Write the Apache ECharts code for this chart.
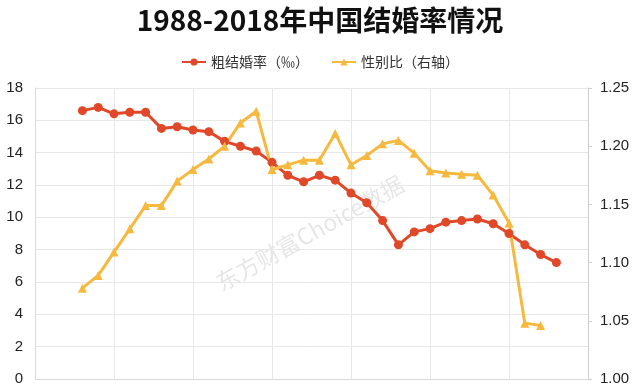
<!DOCTYPE html>
<html>
<head>
<meta charset="utf-8">
<script src="https://cdn.jsdelivr.net/npm/echarts@6/dist/echarts.min.js"></script>
<style>
    html, body { margin: 0; padding: 0; background: #fff; }
    #main { width: 640px; height: 387px; }
</style>
</head>
<body>
<div id="main"></div>
<script>
var years = [1988, 1989, 1990, 1991, 1992, 1993, 1994, 1995, 1996, 1997,
    1998, 1999, 2000, 2001, 2002, 2003, 2004, 2005, 2006, 2007,
    2008, 2009, 2010, 2011, 2012, 2013, 2014, 2015, 2016, 2017, 2018];
// 粗结婚率（‰）
var marriageRate = [16.6, 16.8, 16.4, 16.5, 16.5, 15.5, 15.6, 15.4, 15.3, 14.7,
    14.4, 14.1, 13.4, 12.6, 12.2, 12.6, 12.3, 11.5, 10.9, 9.8,
    8.3, 9.1, 9.3, 9.7, 9.8, 9.9, 9.6, 9.0, 8.3, 7.7, 7.2];
// 性别比（右轴）
var sexRatio = [1.078, 1.089, 1.109, 1.129, 1.149, 1.149, 1.170, 1.180, 1.189, 1.200,
    1.220, 1.230, 1.180, 1.184, 1.188, 1.188, 1.211, 1.184, 1.192, 1.202,
    1.205, 1.194, 1.179, 1.177, 1.176, 1.175, 1.158, 1.134, 1.048, 1.046, null];

var chart = echarts.init(document.getElementById('main'));

var rateData = years.map(function (y, i) { return [y, marriageRate[i]]; });
var ratioData = years.map(function (y, i) { return [y, sexRatio[i]]; });

var option = {
    animation: false,
    title: {
        text: '1988-2018年中国结婚率情况',
        left: 'center',
        top: 1,
        textStyle: {
            fontFamily: 'Noto Sans CJK SC',
            fontWeight: 'bold',
            fontSize: 28,
            color: '#111'
        }
    },
    legend: {
        top: 50,
        left: 'center',
        itemWidth: 24,
        itemHeight: 9,
        itemGap: 22,
        textStyle: {
            fontFamily: 'Noto Sans CJK SC',
            fontSize: 14,
            color: '#333'
        },
        data: ['粗结婚率（‰）', '性别比（右轴）']
    },
    grid: {
        left: 35,
        right: 52,
        top: 88,
        bottom: 8
    },
    xAxis: {
        type: 'value',
        min: 1985,
        max: 2020,
        interval: 5,
        axisLine: { show: true, lineStyle: { color: '#d9d9d9' } },
        axisTick: { show: false },
        axisLabel: { show: false },
        splitLine: { show: true, lineStyle: { color: '#e8e8e8' } }
    },
    yAxis: [{
        type: 'value',
        min: 0,
        max: 18,
        interval: 2,
        axisLine: { show: true, lineStyle: { color: '#d9d9d9' } },
        axisTick: { show: false },
        axisLabel: {
            margin: 12,
            fontFamily: 'Liberation Sans',
            fontSize: 15,
            color: '#222'
        },
        splitLine: { show: true, lineStyle: { color: '#e8e8e8' } }
    }, {
        type: 'value',
        min: 1.00,
        max: 1.25,
        interval: 0.05,
        position: 'right',
        axisLine: { show: true, lineStyle: { color: '#cfcfcf' } },
        axisTick: { show: true, length: 4, lineStyle: { color: '#cfcfcf' } },
        axisLabel: {
            margin: 12,
            fontFamily: 'Liberation Sans',
            fontSize: 15,
            color: '#222',
            formatter: function (v) { return v.toFixed(2); }
        },
        splitLine: { show: false }
    }],
    graphic: [{
        type: 'text',
        left: 212,
        top: 172,
        rotation: 29 * Math.PI / 180,
        style: {
            text: '东方财富Choice数据',
            fontFamily: 'Noto Sans CJK SC',
            fontSize: 23,
            fill: 'rgba(0,0,0,0.10)'
        },
        z: 0
    }],
    series: [{
        name: '粗结婚率（‰）',
        type: 'line',
        yAxisIndex: 0,
        data: rateData,
        symbol: 'circle',
        symbolSize: 9,
        lineStyle: { width: 3, color: '#E0482A' },
        itemStyle: { color: '#E0482A' }
    }, {
        name: '性别比（右轴）',
        type: 'line',
        yAxisIndex: 1,
        data: ratioData,
        symbol: 'triangle',
        symbolSize: 9,
        lineStyle: { width: 3, color: '#F6B940' },
        itemStyle: { color: '#F6B940' }
    }]
};

chart.setOption(option);
</script>
</body>
</html>
